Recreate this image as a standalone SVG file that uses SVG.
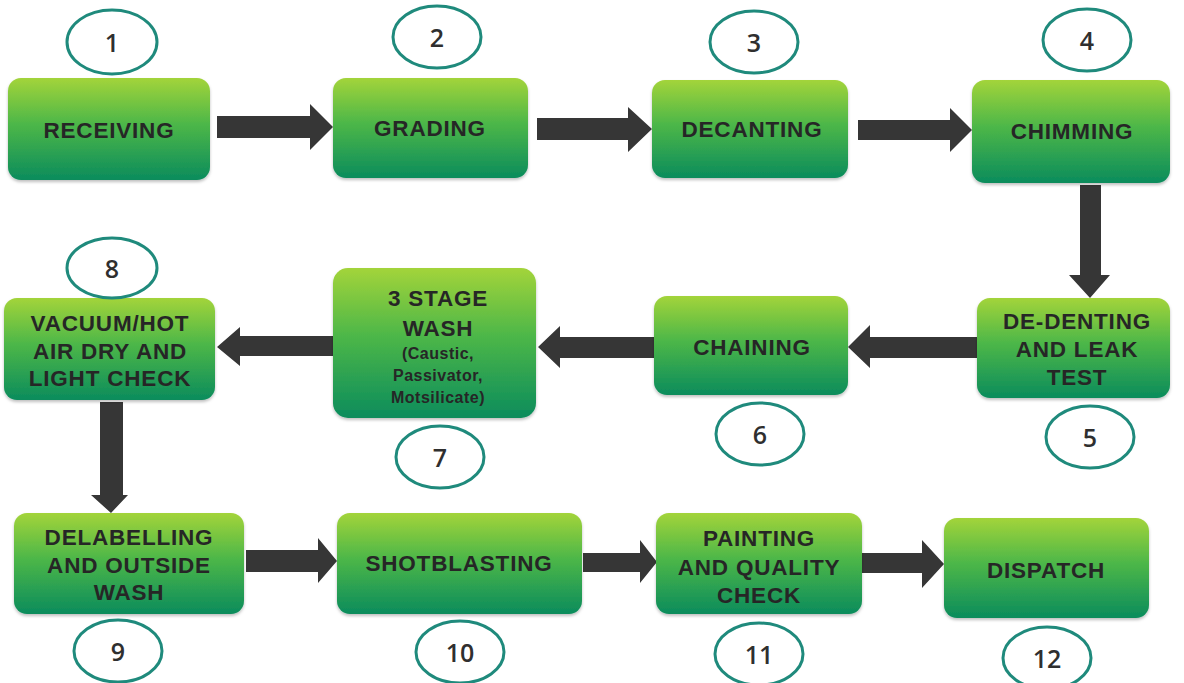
<svg xmlns="http://www.w3.org/2000/svg" width="1184" height="683" viewBox="0 0 1184 683">
<defs>
<linearGradient id="g" x1="0" y1="0" x2="0" y2="1">
<stop offset="0" stop-color="#a3d43a"/>
<stop offset="0.45" stop-color="#4db748"/>
<stop offset="1" stop-color="#0b8c5c"/>
</linearGradient>
<filter id="sh" x="-10%" y="-10%" width="120%" height="130%">
<feDropShadow dx="0" dy="2" stdDeviation="1.5" flood-color="#000" flood-opacity="0.25"/>
</filter>
</defs>
<style>
.box{fill:url(#g);filter:url(#sh)}
.t{font-family:"Liberation Sans",Arial,sans-serif;font-weight:bold;font-size:22.5px;fill:#262626;text-anchor:middle;dominant-baseline:central;letter-spacing:0.8px}
.s{font-size:16px;letter-spacing:0.5px}
.e{fill:#fff;stroke:#1f8a7c;stroke-width:3}
.n{font-family:"Open Sans","Liberation Sans",sans-serif;font-size:25px;font-weight:600;fill:#2f2f2f;text-anchor:middle;dominant-baseline:central}
.a{fill:#363636}
</style>
<rect width="1184" height="683" fill="#fff"/>
<g id="connectors">
<polygon class="a" points="217,116 310,116 310,104 333,127 310,150 310,138 217,138"/>
<polygon class="a" points="537,118 628,118 628,107 652,129 628,152 628,140 537,140"/>
<polygon class="a" points="858,120 950,120 950,108 972,130 950,152 950,140 858,140"/>
<polygon class="a" points="1080,185 1101,185 1101,275 1110,275 1090,298 1069,275 1080,275"/>
<polygon class="a" points="977,337 870,337 870,325 848,347 870,368 870,358 977,358"/>
<polygon class="a" points="654,337 560,337 560,326 538,347 560,368 560,358 654,358"/>
<polygon class="a" points="333,336 240,336 240,327 217,347 240,366 240,356 333,356"/>
<polygon class="a" points="100,402 123,402 123,495 128,495 111,513 91,495 100,495"/>
<polygon class="a" points="246,550 318,550 318,538 337,561 318,583 318,572 246,572"/>
<polygon class="a" points="583,553 640,553 640,540 657,562 640,583 640,572 583,572"/>
<polygon class="a" points="862,553 922,553 922,540 944,564 922,588 922,573 862,573"/>
</g>
<g id="n1"><rect class="box" x="8" y="78" width="202" height="102" rx="13"/><text class="t" x="109" y="130">RECEIVING</text><ellipse class="e" cx="112" cy="42" rx="45" ry="32"/><text class="n" x="112" y="42">1</text></g>
<g id="n2"><rect class="box" x="333" y="78" width="195" height="100" rx="13"/><text class="t" x="430" y="128">GRADING</text><ellipse class="e" cx="437" cy="37" rx="44" ry="31"/><text class="n" x="437" y="37">2</text></g>
<g id="n3"><rect class="box" x="652" y="80" width="196" height="98" rx="13"/><text class="t" x="752" y="129">DECANTING</text><ellipse class="e" cx="754" cy="42" rx="44" ry="31"/><text class="n" x="754" y="42">3</text></g>
<g id="n4"><rect class="box" x="972" y="80" width="198" height="103" rx="13"/><text class="t" x="1072" y="131">CHIMMING</text><ellipse class="e" cx="1087" cy="40" rx="44" ry="31"/><text class="n" x="1087" y="40">4</text></g>
<g id="n5"><rect class="box" x="977" y="298" width="193" height="100" rx="13"/><text class="t" x="1077" y="321">DE-DENTING</text><text class="t" x="1077" y="349">AND LEAK</text><text class="t" x="1077" y="377">TEST</text><ellipse class="e" cx="1090" cy="437" rx="44" ry="31"/><text class="n" x="1090" y="437">5</text></g>
<g id="n6"><rect class="box" x="654" y="296" width="194" height="99" rx="13"/><text class="t" x="752" y="347">CHAINING</text><ellipse class="e" cx="760" cy="434" rx="44" ry="31"/><text class="n" x="760" y="434">6</text></g>
<g id="n7"><rect class="box" x="333" y="268" width="203" height="150" rx="15"/><text class="t" x="438" y="298">3 STAGE</text><text class="t" x="438" y="328">WASH</text><text class="t s" x="438" y="353">(Caustic,</text><text class="t s" x="438" y="375">Passivator,</text><text class="t s" x="438" y="397">Motsilicate)</text><ellipse class="e" cx="440" cy="457" rx="44" ry="31"/><text class="n" x="440" y="457">7</text></g>
<g id="n8"><rect class="box" x="4" y="298" width="211" height="102" rx="13"/><text class="t" x="110" y="323">VACUUM/HOT</text><text class="t" x="110" y="351">AIR DRY AND</text><text class="t" x="110" y="378">LIGHT CHECK</text><ellipse class="e" cx="112" cy="268" rx="45" ry="30"/><text class="n" x="112" y="268">8</text></g>
<g id="n9"><rect class="box" x="14" y="513" width="230" height="101" rx="13"/><text class="t" x="129" y="537">DELABELLING</text><text class="t" x="129" y="565">AND OUTSIDE</text><text class="t" x="129" y="592">WASH</text><ellipse class="e" cx="118" cy="651" rx="44" ry="31"/><text class="n" x="118" y="651">9</text></g>
<g id="n10"><rect class="box" x="337" y="513" width="245" height="101" rx="13"/><text class="t" x="459" y="563">SHOTBLASTING</text><ellipse class="e" cx="460" cy="652" rx="44" ry="31"/><text class="n" x="460" y="652">10</text></g>
<g id="n11"><rect class="box" x="656" y="513" width="206" height="101" rx="13"/><text class="t" x="759" y="538">PAINTING</text><text class="t" x="759" y="567">AND QUALITY</text><text class="t" x="759" y="595">CHECK</text><ellipse class="e" cx="759" cy="654" rx="44" ry="31"/><text class="n" x="759" y="654">11</text></g>
<g id="n12"><rect class="box" x="944" y="518" width="205" height="100" rx="13"/><text class="t" x="1046" y="570">DISPATCH</text><ellipse class="e" cx="1047" cy="658" rx="44" ry="31"/><text class="n" x="1047" y="658">12</text></g>
</svg>
